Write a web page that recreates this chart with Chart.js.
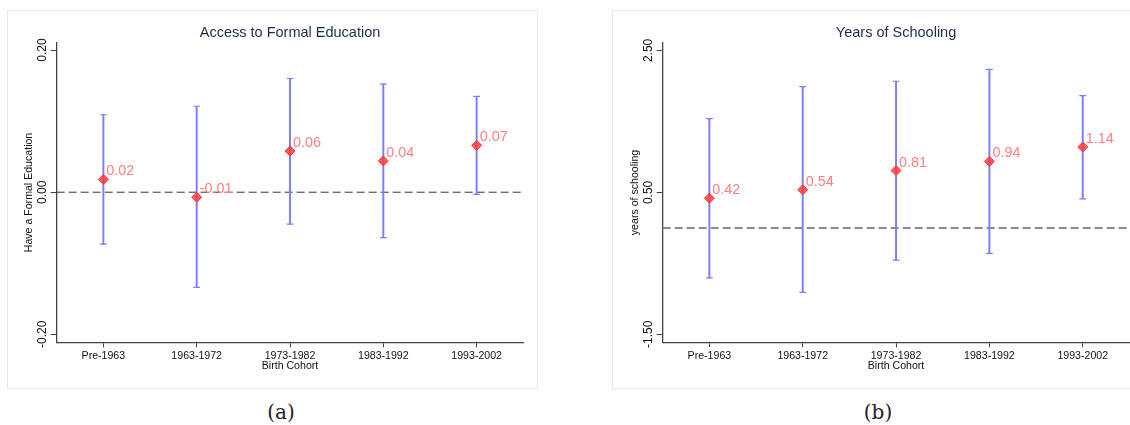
<!DOCTYPE html>
<html><head><meta charset="utf-8">
<script src="https://cdn.jsdelivr.net/npm/chart.js@4.4.1/dist/chart.umd.min.js"></script>
<style>
html,body{margin:0;padding:0;background:#fff;width:1130px;height:425px;overflow:hidden;position:relative;}
.frame{position:absolute;border:1px solid #e4ebef;background:#fff;}
.frame canvas{display:block;}
.cap{position:absolute;font-family:"DejaVu Serif",serif;font-size:20px;line-height:20px;color:#222;text-align:center;width:100px;}
</style></head><body>
<div class="frame" style="left:7px;top:10px;width:529px;height:377px;"><canvas id="ca" width="529" height="377"></canvas></div>
<div class="frame" style="left:612px;top:10px;width:530px;height:377px;"><canvas id="cb" width="530" height="377"></canvas></div>
<div class="cap" style="left:231px;top:402px;">(a)</div>
<div class="cap" style="left:828px;top:402px;">(b)</div>
<script>
// ---- data ----
const cohorts = ['Pre-1963','1963-1972','1973-1982','1983-1992','1993-2002'];
const eduEst = [0.018, -0.007, 0.058, 0.044, 0.066];
const eduLo  = [-0.073, -0.134, -0.045, -0.064, -0.003];
const eduHi  = [0.109, 0.121, 0.160, 0.152, 0.135];
const eduTicks = [-0.2, 0, 0.2];
const eduTickLabels = ['-0.20', '0.00', '0.20'];
const yrsEst = [0.418, 0.537, 0.807, 0.937, 1.139];
const yrsLo  = [-0.704, -0.910, -0.455, -0.360, 0.410];
const yrsHi  = [1.538, 1.989, 2.066, 2.234, 1.862];
const yrsTicks = [-1.5, 0.5, 2.5];
const yrsTickLabels = ['-1.50', '0.50', '2.50'];
const xTitle = 'Birth Cohort';

// ---- styles ----
const FONT = '"Liberation Sans", Arial, sans-serif';
const AXIS = '#444444';
const CI = '#7d7dff';
const MARK_FILL = 'rgba(255,60,60,0.85)';
const MARK_EDGE = '#ff3a3a';
const LABEL = '#ff8080';

const refLine = {
  id: 'refLine',
  beforeDatasetsDraw(chart, args, o) {
    const {ctx, chartArea, scales} = chart;
    const y = scales.y.getPixelForValue(o.value);
    ctx.save();
    ctx.strokeStyle = o.color; ctx.lineWidth = o.width; ctx.setLineDash(o.dash);
    ctx.beginPath(); ctx.moveTo(chartArea.left, y); ctx.lineTo(chartArea.right, y); ctx.stroke();
    ctx.restore();
  }
};
const valueLabels = {
  id: 'valueLabels',
  afterDatasetsDraw(chart) {
    const {ctx} = chart;
    const meta = chart.getDatasetMeta(3);
    const vals = chart.data.datasets[3].data;
    ctx.save();
    ctx.font = '14.4px ' + FONT;
    ctx.fillStyle = LABEL; ctx.textAlign = 'left'; ctx.textBaseline = 'alphabetic';
    meta.data.forEach((pt, i) => ctx.fillText(vals[i].toFixed(2), pt.x + 3, pt.y - 4));
    ctx.restore();
  }
};

function makeChart(id, c) {
  new Chart(document.getElementById(id), {
    type: 'bar',
    data: {
      labels: cohorts,
      datasets: [
        {type:'bar', data: c.lo.map((l,i)=>[l, c.hi[i]]), backgroundColor: CI, barThickness: 1.3, borderWidth: 0, grouped: false, order: 3},
        {type:'line', data: c.lo, showLine:false, pointStyle:'line', pointRadius:3.4, pointBorderWidth:1.2, pointBorderColor:CI, order:2},
        {type:'line', data: c.hi, showLine:false, pointStyle:'line', pointRadius:3.4, pointBorderWidth:1.2, pointBorderColor:CI, order:2},
        {type:'line', data: c.est, showLine:false, pointStyle:'rectRot', pointRadius:5, pointBorderWidth:1, pointBackgroundColor:MARK_FILL, pointBorderColor:MARK_EDGE, order:0}
      ]
    },
    options: {
      responsive: false, animation: false, events: [],
      layout: {padding: {left: 0, right: c.padRight, top: 0, bottom: 0}},
      plugins: {
        legend: {display:false}, tooltip: {enabled:false},
        title: {display:true, text:c.title, fullSize:false, color:'#1d2b4d',
          font:{family:FONT, size:14.5, weight:'normal', lineHeight:1.2}, padding:{top:12.8, bottom:1.5}},
        refLine: {value: 0, color: c.refColor, width: c.refWidth, dash: c.refDash}
      },
      scales: {
        x: {
          type:'category', offset:true,
          grid:{display:true, offset:false, drawOnChartArea:false, drawTicks:true, tickLength:5, color:AXIS, lineWidth:1},
          border:{display:true, color:AXIS, width:1.3},
          ticks:{font:{family:FONT, size:10.6}, color:'#111', padding:2.7, minRotation:0, maxRotation:0, autoSkip:false},
          title:{display:true, text:xTitle, color:'#111', font:{family:FONT, size:10.6, lineHeight:1.2}, padding:{top:0, bottom:15.2}},
          afterFit(s){ s.height = 45.7; }
        },
        y: {
          min: c.yMin, max: c.yMax,
          afterBuildTicks(s){ s.ticks = c.ticks.map(v => ({value: v})); },
          grid:{display:true, drawOnChartArea:false, drawTicks:true, tickLength:6, color:AXIS, lineWidth:1},
          border:{display:true, color:AXIS, width:1.3},
          ticks:{minRotation:90, maxRotation:90, crossAlign:'center', padding:-5.2, font:{family:FONT, size:12}, color:'#111',
            callback:(v, i) => c.tickLabels[i]},
          title:{display:true, text:c.yTitle, color:'#111', font:{family:FONT, size:10.6, lineHeight:1.2}, padding:{top:c.yTitlePad, bottom:0}},
          afterFit(s){ s.width = c.yAxisW; }
        }
      }
    },
    plugins: [refLine, valueLabels]
  });
}

makeChart('ca', {title:'Access to Formal Education', yTitle:'Have a Formal Education',
  est:eduEst, lo:eduLo, hi:eduHi, ticks:eduTicks, tickLabels:eduTickLabels,
  yMin:-0.2112, yMax:0.2104, yAxisW:48.7, yTitlePad:14.3, padRight:13.7,
  refColor:'#333333', refWidth:1, refDash:[8,4]});
makeChart('cb', {title:'Years of Schooling', yTitle:'years of schooling',
  est:yrsEst, lo:yrsLo, hi:yrsHi, ticks:yrsTicks, tickLabels:yrsTickLabels,
  yMin:-1.612, yMax:2.609, yAxisW:49.7, yTitlePad:15.3, padRight:13.6,
  refColor:'#8c8c8c', refWidth:2, refDash:[8,4]});
</script>
</body></html>
